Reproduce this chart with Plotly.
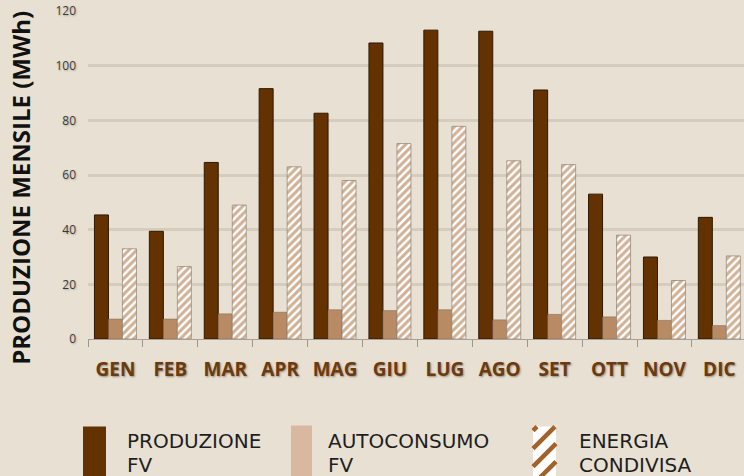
import plotly.graph_objects as go

# ---------------- data ----------------
months = ["GEN", "FEB", "MAR", "APR", "MAG", "GIU", "LUG", "AGO", "SET", "OTT", "NOV", "DIC"]
produzione_fv = [45.4, 39.4, 64.6, 91.6, 82.6, 108.3, 113.0, 112.6, 91.1, 53.0, 30.0, 44.5]
autoconsumo_fv = [7.3, 7.3, 9.2, 9.8, 10.7, 10.4, 10.7, 7.0, 9.0, 8.1, 6.8, 4.9]
energia_condivisa = [33.0, 26.5, 49.0, 63.0, 58.0, 71.5, 77.8, 65.2, 63.8, 38.0, 21.4, 30.4]
y_ticks = [0, 20, 40, 60, 80, 100, 120]
series_names = ["PRODUZIONE FV", "AUTOCONSUMO FV", "ENERGIA CONDIVISA"]

# ---------------- style ----------------
BG = "#e8e1d3"
C_PROD = "#643100"
C_AUTO = "#b88b65"
C_AUTO_LEG = "#dab8a0"
C_HATCH = "#a2632b"

W, H = 744, 476
ML, MR, MT, MB = 88, 0, 11, 136.7
PW, PH = W - ML - MR, H - MT - MB


def px(x):
    return (x - ML) / PW


def py(y):
    return (H - MB - y) / PH


fig = go.Figure()
fig.add_trace(go.Bar(
    x=months, y=produzione_fv, name=series_names[0],
    marker=dict(color=C_PROD, line=dict(color="#2e1805", width=1)),
))
fig.add_trace(go.Bar(
    x=months, y=autoconsumo_fv, name=series_names[1],
    marker=dict(color=C_AUTO, line=dict(color="rgba(120,100,80,0.5)", width=1)),
))
fig.add_trace(go.Bar(
    x=months, y=energia_condivisa, name=series_names[2],
    marker=dict(
        color="white",
        line=dict(color="rgba(140,128,115,0.7)", width=1),
        pattern=dict(shape="/", fgcolor=C_HATCH, bgcolor="white", size=5.5, solidity=0.55),
    ),
))

cat_w = 54.9
fig.update_layout(
    width=W, height=H,
    margin=dict(l=ML, r=MR, t=MT, b=MB, pad=0),
    paper_bgcolor=BG, plot_bgcolor=BG,
    barmode="group", bargap=0.235, bargroupgap=0,
    showlegend=False,
    xaxis=dict(
        type="category",
        range=[-0.5, -0.5 + PW / cat_w],
        tickson="boundaries",
        ticks="outside", ticklen=7, tickcolor="#9c958c", tickwidth=1,
        showline=True, linecolor="#a8a095", linewidth=1,
        showgrid=False,
        tickfont=dict(family="Open Sans", size=19, color="#6b3a0f", weight="bold",
                      shadow="1px 1px 2px rgba(60,40,20,0.45)"),
        ticklabelstandoff=13,
    ),
    yaxis=dict(
        range=[0, 120],
        tickvals=y_ticks,
        showgrid=True, gridcolor="#d5ccbe", gridwidth=2.5,
        zeroline=False,
        showline=False,
        ticks="",
        tickfont=dict(family="Open Sans", size=12, color="#3a3a3a",
                      shadow="1px 1px 2px rgba(0,0,0,0.25)"),
        ticklabelstandoff=11,
    ),
)

# y-axis title
fig.add_annotation(
    text="PRODUZIONE MENSILE (MWh)", textangle=-90,
    xref="paper", yref="paper", x=px(21), y=py(188),
    xanchor="center", yanchor="middle", showarrow=False,
    font=dict(family="Open Sans", size=24, color="#111111", weight="bold"),
)

# ---------------- custom legend ----------------
shapes = []
shapes.append(dict(type="rect", xref="paper", yref="paper",
                   x0=px(83), x1=px(106), y0=py(427), y1=py(480),
                   fillcolor=C_PROD, line=dict(width=0)))
shapes.append(dict(type="rect", xref="paper", yref="paper",
                   x0=px(291), x1=px(312), y0=py(426), y1=py(480),
                   fillcolor=C_AUTO_LEG, line=dict(width=0)))
hx0, hx1, hy0, hy1 = 533, 556, 427, 480
shapes.append(dict(type="rect", xref="paper", yref="paper",
                   x0=px(hx0), x1=px(hx1), y0=py(hy0), y1=py(hy1),
                   fillcolor="white", line=dict(width=0)))
c = hx0 + hy0 + 4
while c < hx1 + hy1:
    xa = max(hx0, c - hy1)
    xb = min(hx1, c - hy0)
    if xb > xa:
        shapes.append(dict(type="line", xref="paper", yref="paper",
                           x0=px(xa), y0=py(c - xa), x1=px(xb), y1=py(c - xb),
                           line=dict(color=C_HATCH, width=4.5)))
    c += 18
fig.update_layout(shapes=shapes)

leg_font = dict(family="DejaVu Sans", size=20, color="#1e1e1e")
legend_lines = [
    (125, "PRODUZIONE", "FV"),
    (326, "AUTOCONSUMO", "FV"),
    (577, "ENERGIA", "CONDIVISA"),
]
for x0, l1, l2 in legend_lines:
    fig.add_annotation(text=l1, xref="paper", yref="paper", x=px(x0), y=py(441.5),
                       xanchor="left", yanchor="middle", showarrow=False, font=leg_font)
    fig.add_annotation(text=l2, xref="paper", yref="paper", x=px(x0), y=py(465),
                       xanchor="left", yanchor="middle", showarrow=False, font=leg_font)

fig.write_html("out.html", config={"displayModeBar": False},
               post_script="document.body.style.margin='0';")
